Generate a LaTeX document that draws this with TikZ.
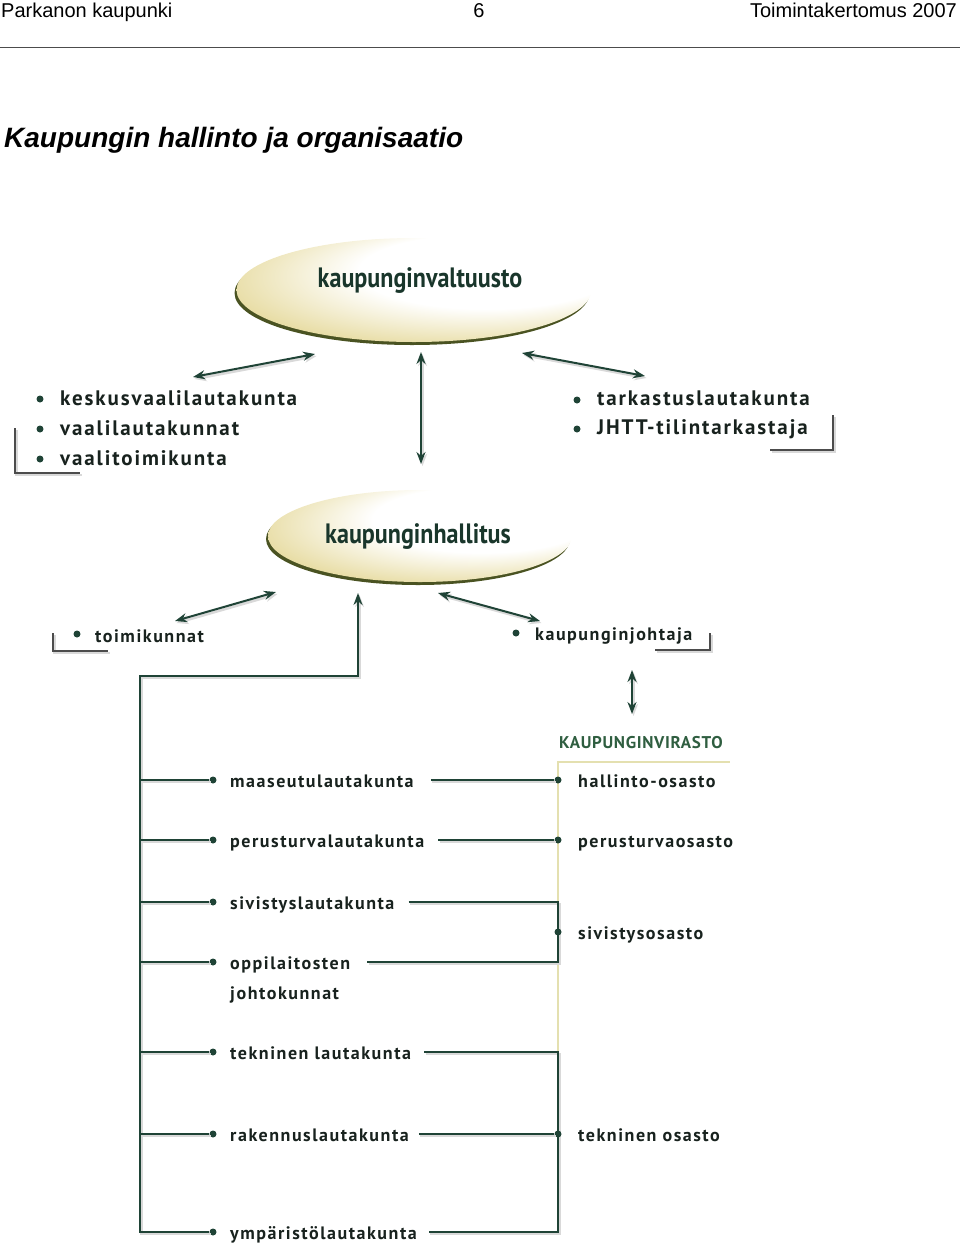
\documentclass[tikz,border=0pt]{standalone}
\usepackage{fontspec}
\setmainfont{Liberation Sans}
\newfontfamily\officefont[LetterSpace=4]{PT Sans}
\newfontfamily\itemfont[LetterSpace=8.5]{PT Sans}
\newfontfamily\listfont[LetterSpace=9]{PT Sans}
\newfontfamily\discfont{PT Sans}
\usepackage{tikz}
\usetikzlibrary{shapes.geometric, arrows.meta, positioning}
\usepackage{xcolor}
\definecolor{linegreen}{HTML}{1F4336}
\definecolor{inkdark}{HTML}{18221E}
\definecolor{officegreen}{HTML}{2F5E40}
\definecolor{discgold}{HTML}{CDB53C}
\definecolor{discrim}{HTML}{4A5322}
\definecolor{paleline}{HTML}{E4E0B0}
\pgfdeclareradialshading{discshade}{\pgfpoint{16bp}{14bp}}{color(0bp)=(white); color(18bp)=(white); color(32bp)=(discgold!45); color(50bp)=(discgold)}

\begin{document}
\begin{tikzpicture}[
    x=1pt, y=-1pt,
    header/.style={font=\fontsize{20}{23}\selectfont, inner sep=0pt},
    titletext/.style={font=\fontsize{28}{32}\selectfont\bfseries\itshape, inner sep=0pt},
    disc/.style={ellipse, shading=discshade, draw=none,
      preaction={fill=discrim, transform canvas={shift={(-2pt,-3pt)}}}},
    disctext/.style={font=\discfont\fontsize{28}{32}\selectfont\bfseries, text=linegreen!80!black, inner sep=0pt, anchor=base, xscale=0.86, transform shape},
    listitem/.style={font=\listfont\fontsize{21}{24}\selectfont\bfseries, text=inkdark, inner sep=0pt, anchor=base west},
    item/.style={font=\itemfont\fontsize{18}{21}\selectfont\bfseries, text=inkdark, inner sep=0pt, anchor=base west},
    dept/.style={item},
    office/.style={font=\officefont\fontsize{17}{20}\selectfont\bfseries, text=officegreen, inner sep=0pt, anchor=base west},
    dot/.style={circle, fill=linegreen, inner sep=0pt, minimum size=7pt},
    link/.style={draw=linegreen, line width=1.7pt,
      preaction={draw=black!15, line width=2.6pt, transform canvas={shift={(1.5pt,-2pt)}}}},
    both/.style={link, line width=2pt, {Stealth[length=12pt,width=9pt]}-{Stealth[length=12pt,width=9pt]}},
    corner/.style={draw=black!70, line width=1.3pt,
      preaction={draw=black!15, line width=2.4pt, transform canvas={shift={(1.5pt,-2pt)}}}},
    pale/.style={draw=paleline, line width=2pt},
    headrule/.style={draw=black!70, line width=1pt}
  ]
  \useasboundingbox (0,0) rectangle (960,1248);

  % Header
  \node[header, anchor=base west] (town) at (1,17) {Parkanon kaupunki};
  \node[header, anchor=base] (pageno) at (479,17) {6};
  \node[header, anchor=base east] (report) at (957,17) {Toimintakertomus 2007};
  \coordinate (rule-l) at (0,47);
  \coordinate (rule-r) at (960,47);
  \draw[headrule] (rule-l) -- (rule-r);
  \node[titletext, anchor=base west] (title) at (4,147) {Kaupungin hallinto ja organisaatio};

  % Councils
  \node[disc, minimum width=355pt, minimum height=104pt] (council) at (414,290) {};
  \node[disctext] (council-text) at ([xshift=6pt,yshift=3pt]council.center) {kaupunginvaltuusto};
  \node[disc, minimum width=304pt, minimum height=92pt] (board) at (420,536) {};
  \node[disctext] (board-text) at ([xshift=-2pt,yshift=-7pt]board.center) {kaupunginhallitus};

  % Election bodies
  \node[listitem] (keskus) at (60,405) {keskusvaalilautakunta};
  \node[listitem] (vaalilauta) at (60,435) {vaalilautakunnat};
  \node[listitem] (vaalitoimi) at (60,465) {vaalitoimikunta};
  \node[dot] (b-keskus) at (40,399) {};
  \node[dot] (b-vaalilauta) at (40,429) {};
  \node[dot] (b-vaalitoimi) at (40,459) {};
  \coordinate (elect-top) at (15,428);
  \coordinate (elect-end) at (80,473);
  \draw[corner] (elect-top) |- (elect-end);

  % Audit
  \node[listitem] (tarkastus) at (597,405) {tarkastuslautakunta};
  \node[listitem] (jhtt) at (597,434) {JHTT-tilintarkastaja};
  \node[dot] (b-tarkastus) at (577,400) {};
  \node[dot] (b-jhtt) at (577,429) {};
  \coordinate (audit-top) at (833,415);
  \coordinate (audit-end) at (770,450);
  \draw[corner] (audit-top) |- (audit-end);

  % Arrows round the council
  \coordinate (elect-arr) at (193,377);
  \coordinate (council-l) at (315,354);
  \coordinate (council-b) at (421,352);
  \coordinate (board-t) at (421,464);
  \coordinate (council-r) at (522,353);
  \coordinate (audit-arr) at (645,376);
  \draw[both] (elect-arr) -- (council-l);
  \draw[both] (council-b) -- (board-t);
  \draw[both] (council-r) -- (audit-arr);

  % Committees and mayor
  \node[item] (toimi) at (95,642) {toimikunnat};
  \node[dot] (b-toimi) at (77,634) {};
  \coordinate (toimi-top) at (53,633);
  \coordinate (toimi-end) at (108,651);
  \draw[corner] (toimi-top) |- (toimi-end);
  \node[item] (johtaja) at (535,640) {kaupunginjohtaja};
  \node[dot] (b-johtaja) at (516,633) {};
  \coordinate (johtaja-top) at (710,633);
  \coordinate (johtaja-end) at (655,650);
  \draw[corner] (johtaja-top) |- (johtaja-end);
  \coordinate (toimi-arr) at (175,621);
  \coordinate (board-l) at (276,592);
  \coordinate (board-r) at (438,593);
  \coordinate (johtaja-arr) at (540,621);
  \draw[both] (toimi-arr) -- (board-l);
  \draw[both] (board-r) -- (johtaja-arr);
  \coordinate (johtaja-b) at (632,670);
  \coordinate (office-t) at (632,714);
  \draw[both] (johtaja-b) -- (office-t);

  % City office
  \node[office] (virasto) at (559,748) {KAUPUNGINVIRASTO};
  \coordinate (office) at (558,762);
  \coordinate (office-r) at (730,762);

  % Boards
  \node[item] (maaseutu) at (230,787) {maaseutulautakunta};
  \node[item] (perusturva) at (230,847) {perusturvalautakunta};
  \node[item] (sivistys) at (230,909) {sivistyslautakunta};
  \node[item] (oppil) at (230,969) {oppilaitosten};
  \node[item] (johto) at (230,999) {johtokunnat};
  \node[item] (tekninen) at (230,1059) {tekninen lautakunta};
  \node[item] (rakennus) at (230,1141) {rakennuslautakunta};
  \node[item] (ymparisto) at (230,1239) {ympäristölautakunta};
  \node[dot] (b-maaseutu) at (213,780) {};
  \node[dot] (b-perusturva) at (213,840) {};
  \node[dot] (b-sivistys) at (213,902) {};
  \node[dot] (b-oppil) at (213,962) {};
  \node[dot] (b-tekninen) at (213,1052) {};
  \node[dot] (b-rakennus) at (213,1134) {};
  \node[dot] (b-ymparisto) at (213,1232) {};

  % Departments
  \node[dept] (hallinto) at (578,787) {hallinto-osasto};
  \node[dept] (perusosasto) at (578,847) {perusturvaosasto};
  \node[dept] (sivosasto) at (578,939) {sivistysosasto};
  \node[dept] (teknosasto) at (578,1141) {tekninen osasto};
  \draw[pale] (office-r) -- (office) -- (office |- b-tekninen);
  \draw[link] ([xshift=14pt]sivistys.east |- b-sivistys) -- (office |- b-sivistys) -- (office |- b-oppil) -- ([xshift=17pt]oppil.east |- b-oppil);
  \draw[link] ([xshift=13pt]tekninen.east |- b-tekninen) -- (office |- b-tekninen) -- (office |- b-ymparisto) -- ([xshift=12pt]ymparisto.east |- b-ymparisto);
  \node[dot] (d-hallinto) at (558,780) {};
  \node[dot] (d-perusturva) at (558,840) {};
  \node[dot] (d-sivistys) at (558,932) {};
  \node[dot] (d-tekninen) at (558,1134) {};

  % Trunk
  \coordinate (trunk) at (140,676);
  \coordinate (board-b) at (358,593);
  \draw[link, -{Stealth[length=12pt,width=9pt]}] (b-ymparisto) -| (trunk) -| (board-b);
  \draw[link] (trunk |- b-maaseutu) -- (b-maaseutu);
  \draw[link] (trunk |- b-perusturva) -- (b-perusturva);
  \draw[link] (trunk |- b-sivistys) -- (b-sivistys);
  \draw[link] (trunk |- b-oppil) -- (b-oppil);
  \draw[link] (trunk |- b-tekninen) -- (b-tekninen);
  \draw[link] (trunk |- b-rakennus) -- (b-rakennus);

  % Boards to departments
  \draw[link] ([xshift=17pt]maaseutu.east |- d-hallinto) -- (d-hallinto);
  \draw[link] ([xshift=14pt]perusturva.east |- d-perusturva) -- (d-perusturva);
  \draw[link] ([xshift=10pt]rakennus.east |- d-tekninen) -- (d-tekninen);
\end{tikzpicture}
\end{document}
